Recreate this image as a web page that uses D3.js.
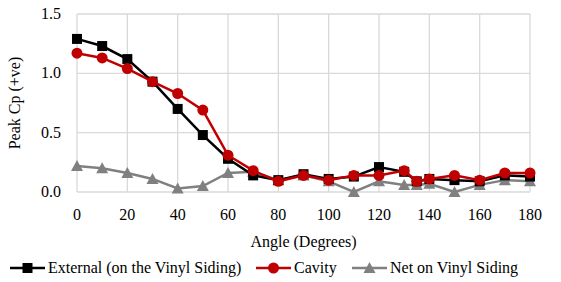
<!DOCTYPE html>
<html>
<head>
<meta charset="utf-8">
<script src="https://cdn.jsdelivr.net/npm/d3@7"></script>
<style>
    body { margin: 0; background: #fff; }
    svg text { font-family: "Times New Roman", "Liberation Serif", serif !important; }
</style>
</head>
<body>
<div id="chart"></div>
<script>
// angles (degrees)
const angles = [0, 10, 20, 30, 40, 50, 60, 70, 80, 90, 100, 110, 120, 130, 135, 140, 150, 160, 170, 180];

// peak Cp values per series
const external = [1.29, 1.23, 1.12, 0.93, 0.70, 0.48, 0.28, 0.14, 0.10, 0.15, 0.11, 0.13, 0.21, 0.17, 0.09, 0.11, 0.10, 0.09, 0.14, 0.13];
const cavity   = [1.17, 1.13, 1.04, 0.93, 0.83, 0.69, 0.31, 0.18, 0.09, 0.14, 0.10, 0.14, 0.14, 0.18, 0.09, 0.11, 0.14, 0.10, 0.16, 0.16];
const netVinyl = [0.22, 0.20, 0.16, 0.11, 0.03, 0.05, 0.16, 0.17, 0.10, 0.14, 0.09, 0.00, 0.09, 0.06, 0.06, 0.07, 0.00, 0.06, 0.10, 0.09];

const xTicks = [0, 20, 40, 60, 80, 100, 120, 140, 160, 180];
const yTicks = [0, 0.5, 1.0, 1.5];

const series = [
    {name: "External (on the Vinyl Siding)", values: external, color: "#000000", marker: "square"},
    {name: "Cavity", values: cavity, color: "#c00000", marker: "circle"},
    {name: "Net on Vinyl Siding", values: netVinyl, color: "#808080", marker: "triangle"}
];

const width = 561, height = 282;
const margin = {top: 14, right: 31, bottom: 90, left: 77};

const svg = d3.select("#chart").append("svg")
    .attr("width", width)
    .attr("height", height)
    .style("display", "block");

const x = d3.scaleLinear().domain([0, 180]).range([margin.left, width - margin.right]);
const y = d3.scaleLinear().domain([0, 1.5]).range([height - margin.bottom, margin.top]);

// text helper
function label(text, px, py, anchor) {
    return svg.append("text")
        .attr("x", px)
        .attr("y", py)
        .attr("text-anchor", anchor || "start")
        .style("font-family", "\"Times New Roman\", \"Liberation Serif\", serif", "important")
        .style("font-size", "16px")
        .style("fill", "#000")
        .text(text);
}

// grid lines
svg.append("g")
    .selectAll("line")
    .data(xTicks)
    .join("line")
    .attr("x1", d => x(d)).attr("x2", d => x(d))
    .attr("y1", y(1.5)).attr("y2", y(0))
    .attr("stroke", "#d9d9d9").attr("stroke-width", 1.3);

svg.append("g")
    .selectAll("line")
    .data(yTicks)
    .join("line")
    .attr("x1", x(0)).attr("x2", x(180))
    .attr("y1", d => y(d)).attr("y2", d => y(d))
    .attr("stroke", "#d9d9d9").attr("stroke-width", 1.3);

// tick labels
xTicks.forEach(d => label(d, x(d), y(0) + 28, "middle"));
yTicks.forEach(d => label(d.toFixed(1), x(0) - 16, y(d) + 5, "end"));

// axis titles
label("Angle (Degrees)", (x(0) + x(180)) / 2, 247, "middle");
label("Peak Cp (+ve)", 0, 0, "middle")
    .attr("transform", `translate(20, ${(y(0) + y(1.5)) / 2}) rotate(-90)`);

// marker helper
function drawMarker(g, type, cx, cy, color) {
    if (type === "square") {
        g.append("rect")
            .attr("x", cx - 5).attr("y", cy - 5)
            .attr("width", 10).attr("height", 10)
            .attr("fill", color);
    } else if (type === "circle") {
        g.append("circle")
            .attr("cx", cx).attr("cy", cy).attr("r", 5.5)
            .attr("fill", color);
    } else {
        g.append("path")
            .attr("d", `M${cx},${cy - 6}L${cx + 6},${cy + 5}L${cx - 6},${cy + 5}Z`)
            .attr("fill", color);
    }
}

const line = d3.line()
    .x(d => x(d[0]))
    .y(d => y(d[1]));

// draw series (net first so the others sit on top)
[series[2], series[0], series[1]].forEach(s => {
    const pts = angles.map((a, i) => [a, s.values[i]]);
    const g = svg.append("g");
    g.append("path")
        .datum(pts)
        .attr("d", line)
        .attr("fill", "none")
        .attr("stroke", s.color)
        .attr("stroke-width", 2.5);
    pts.forEach(p => drawMarker(g, s.marker, x(p[0]), y(p[1]), s.color));
});

// legend
const legendY = 268;
const legendX = [10, 256, 352];
series.forEach((s, i) => {
    const g = svg.append("g").attr("transform", `translate(${legendX[i]}, ${legendY})`);
    g.append("line")
        .attr("x1", 0).attr("x2", 35)
        .attr("y1", 0).attr("y2", 0)
        .attr("stroke", s.color).attr("stroke-width", 2.5);
    drawMarker(g, s.marker, 17.5, 0, s.color);
    label(s.name, legendX[i] + 38, legendY + 5);
});
</script>
</body>
</html>
